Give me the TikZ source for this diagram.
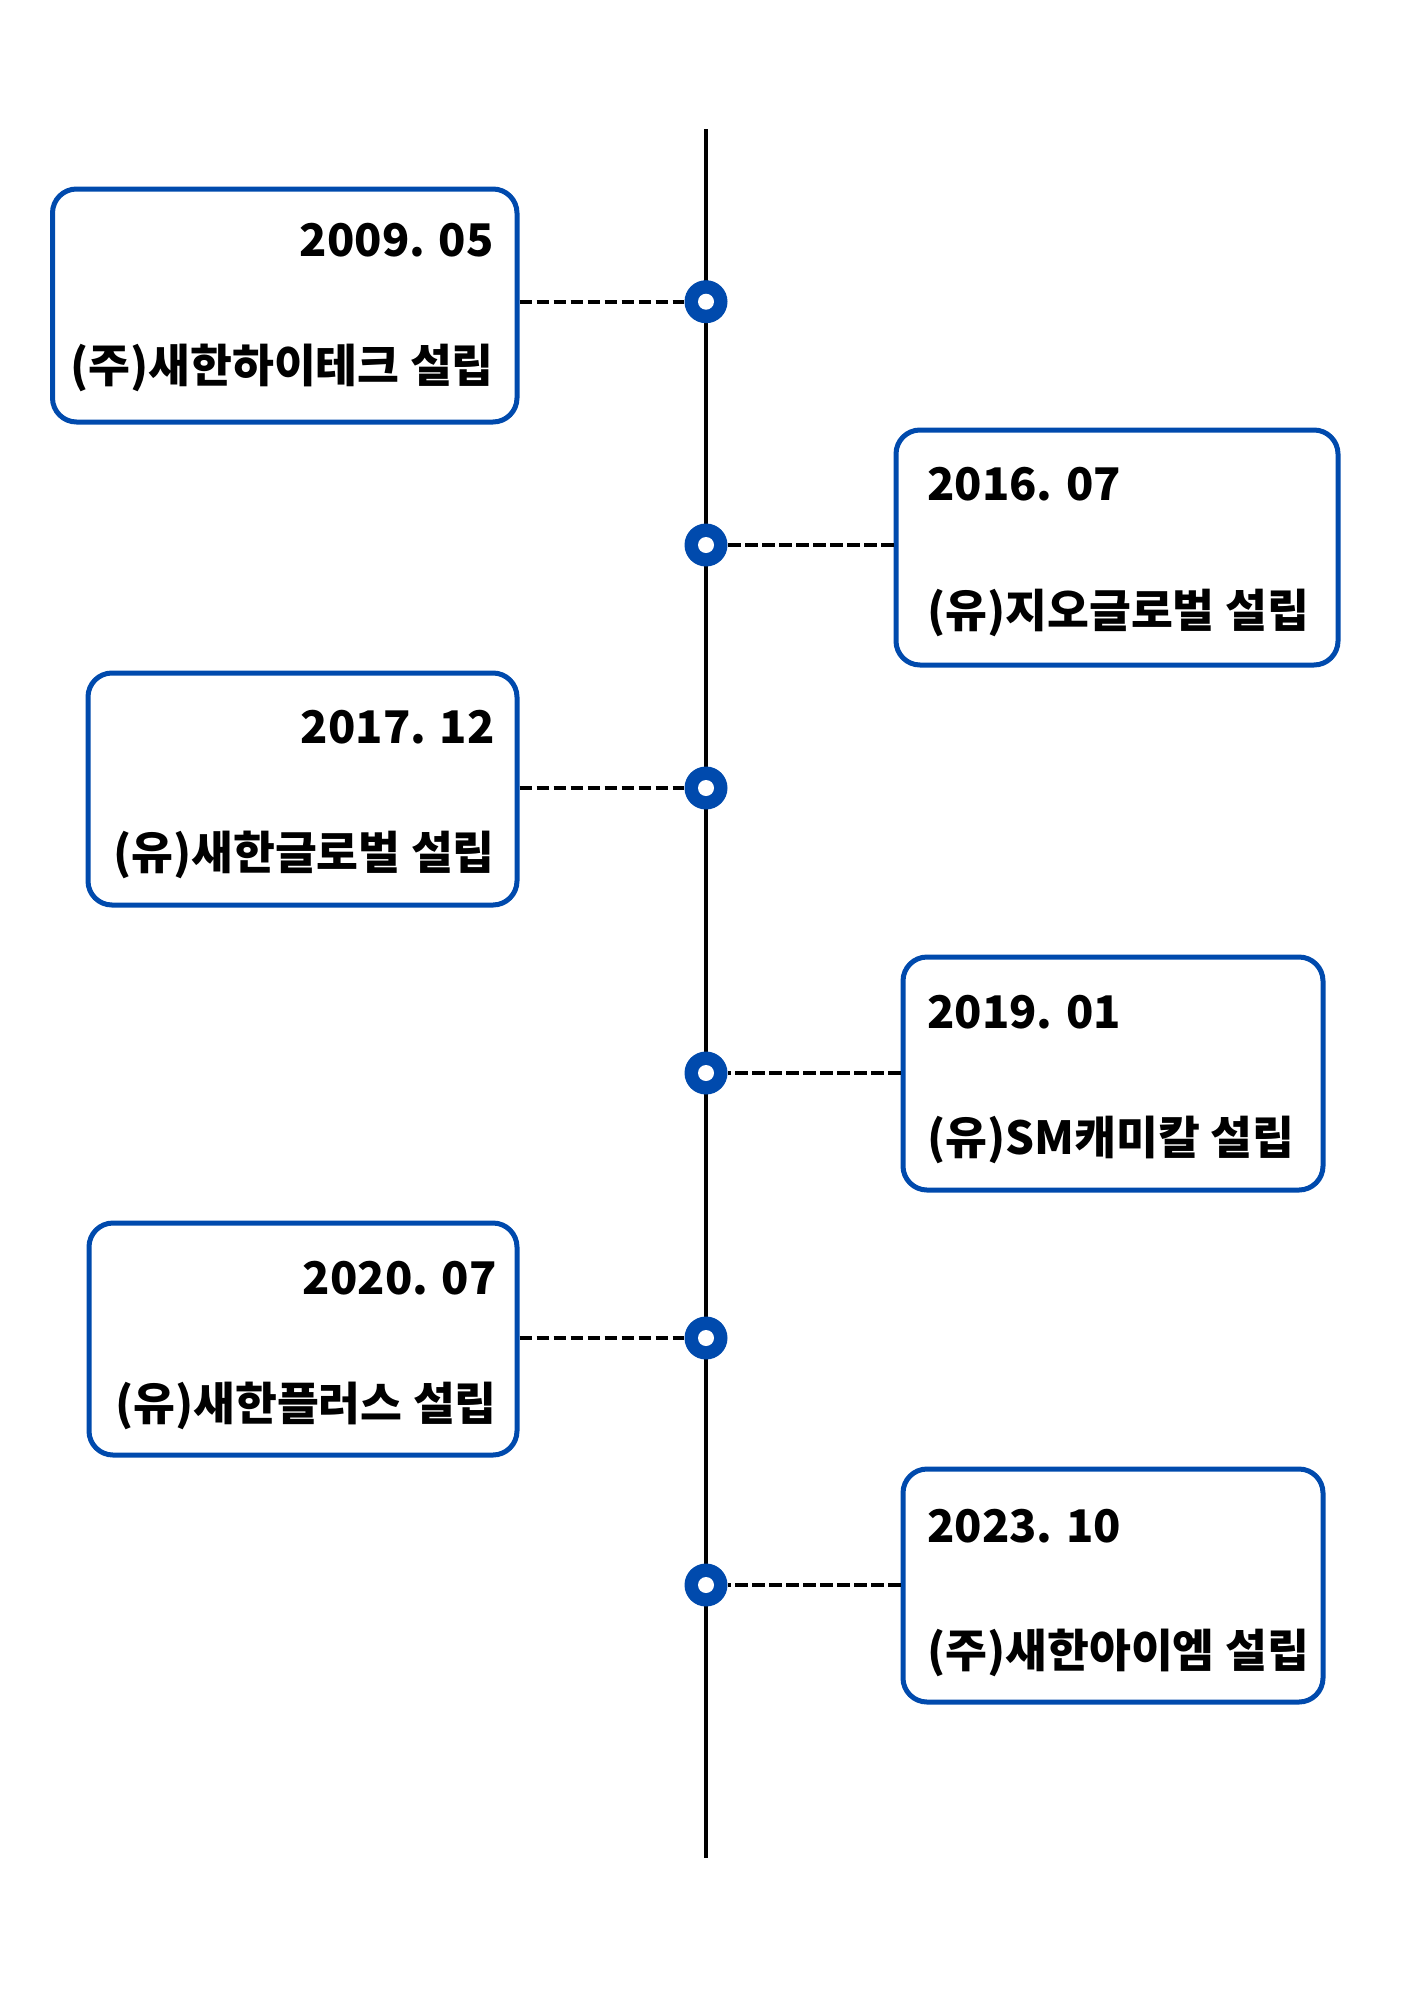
\documentclass[tikz,border=0pt]{standalone}
\usepackage{fontspec}
\setmainfont{Noto Sans CJK KR}
\definecolor{tblue}{HTML}{004AAD}
\begin{document}
\begin{tikzpicture}[x=1pt,y=-1pt,
  evbox/.style={draw=tblue,line width=5pt,rounded corners=24pt,fill=white},
  datetext/.style={inner sep=0pt,font=\fontsize{45}{54}\selectfont\bfseries},
  eventtext/.style={inner sep=0pt,font=\fontsize{45.5}{54}\selectfont\bfseries},
  dot/.style={circle,fill=tblue,minimum size=43pt,inner sep=0pt},
  hole/.style={circle,fill=white,minimum size=16pt,inner sep=0pt},
  link/.style={line width=4pt,dash pattern=on 12.5pt off 4.5pt}]
\useasboundingbox (0,0) rectangle (1414,2000);
\fill[white] (0,0) rectangle (1414,2000);
% timeline
\coordinate (ltop) at (706,129);
\coordinate (lbot) at (706,1858);
\draw[line width=4pt] (ltop) -- (lbot);
% boxes
\draw[evbox] (52.5,189) rectangle (517,422);
\draw[evbox] (896,430) rectangle (1338,665);
\draw[evbox] (88,673) rectangle (517,905);
\draw[evbox] (903,957) rectangle (1323,1190);
\draw[evbox] (89,1223) rectangle (517,1455);
\draw[evbox] (903,1469) rectangle (1323,1702);
\coordinate (e1) at (519.5,301.7);
\coordinate (e2) at (893.5,545);
\coordinate (e3) at (519.5,788);
\coordinate (e4) at (900.5,1073);
\coordinate (e5) at (519.5,1338);
\coordinate (e6) at (900.5,1585);
% dots
\foreach \i/\y in {1/301.7,2/545,3/788,4/1073,5/1338,6/1585}{
  \node[dot] (d\i) at (706,\y) {};
}
\foreach \i in {1,...,6}{
  \draw[link] (e\i) -- (d\i);
  \node[hole] at (d\i) {};
}
% texts
\node[datetext,anchor=base east] (t1a) at (494,256) {2009. 05};
\node[eventtext,anchor=base east] (t1b) at (494,382) {(주)새한하이테크 설립};
\node[datetext,anchor=base west] (t2a) at (927,500) {2016. 07};
\node[eventtext,anchor=base west] (t2b) at (927,627) {(유)지오글로벌 설립};
\node[datetext,anchor=base east] (t3a) at (495,743) {2017. 12};
\node[eventtext,anchor=base east] (t3b) at (495,869) {(유)새한글로벌 설립};
\node[datetext,anchor=base west] (t4a) at (927,1028) {2019. 01};
\node[eventtext,anchor=base west] (t4b) at (927,1154) {(유)SM캐미칼 설립};
\node[datetext,anchor=base east] (t5a) at (497,1294) {2020. 07};
\node[eventtext,anchor=base east] (t5b) at (497,1420) {(유)새한플러스 설립};
\node[datetext,anchor=base west] (t6a) at (927,1542) {2023. 10};
\node[eventtext,anchor=base west] (t6b) at (927,1667) {(주)새한아이엠 설립};
\end{tikzpicture}
\end{document}
